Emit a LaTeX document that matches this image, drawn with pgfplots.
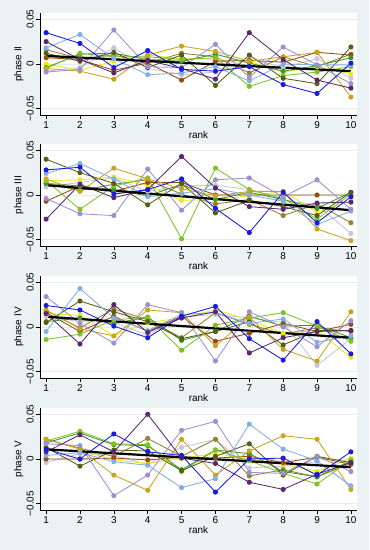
\documentclass[border=0pt]{standalone}
\usepackage{fontspec}
\setmainfont{Liberation Sans}
\usepackage{pgfplots}
\usepackage{pgfplotstable}
\pgfplotsset{compat=1.18}
\definecolor{bgc}{RGB}{234,242,243}
\definecolor{gridc}{RGB}{228,236,238}
\definecolor{s1}{RGB}{25,25,230}
\definecolor{s2}{RGB}{90,40,110}
\definecolor{s3}{RGB}{155,145,210}
\definecolor{s4}{RGB}{130,175,230}
\definecolor{s5}{RGB}{200,165,30}
\definecolor{s6}{RGB}{85,95,25}
\definecolor{s7}{RGB}{125,195,35}
\definecolor{s8}{RGB}{150,75,20}
\definecolor{s9}{RGB}{235,235,20}
\definecolor{s10}{RGB}{150,130,50}
\definecolor{s11}{RGB}{200,195,225}
\definecolor{s12}{RGB}{60,150,40}

\pgfplotstableread{
r c1 c2 c3 c4 c5 c6 c7 c8 c9 c10 c11 c12
1  0.035 0.025 -0.009 0.018 -0.005 0.012 -0.005 0.007 0.000 0.016 -0.008 -0.004
2  0.023 0.005 -0.006 0.033 -0.008 0.003 0.012 0.005 -0.007 0.006 -0.004 0.011
3  -0.004 -0.010 0.038 0.006 -0.017 0.013 0.008 -0.007 0.003 0.010 0.018 0.012
4  0.015 0.004 -0.003 -0.012 0.010 -0.004 0.008 0.001 0.010 0.001 -0.005 0.005
5  -0.006 -0.005 -0.004 -0.010 0.020 0.010 0.005 -0.018 0.006 0.012 -0.012 0.003
6  -0.008 -0.017 0.022 -0.003 0.014 -0.024 0.007 0.003 0.005 0.008 -0.009 0.011
7  -0.003 0.035 -0.015 -0.019 0.003 0.010 -0.025 0.004 0.003 -0.010 0.006 0.001
8  -0.023 0.005 0.019 0.000 0.008 -0.016 -0.013 0.002 -0.009 0.008 -0.004 -0.008
9  -0.033 -0.018 -0.001 -0.001 0.013 -0.022 -0.009 0.013 -0.003 -0.003 0.006 -0.002
10 0.001 -0.027 -0.022 -0.001 -0.037 0.019 -0.003 0.010 -0.011 0.011 -0.016 0.007
}\tabA

\pgfplotstableread{
r c1 c2 c3 c4 c5 c6 c7 c8 c9 c10 c11 c12
1  0.028 -0.027 -0.004 0.024 0.018 0.040 0.016 -0.007 0.016 0.013 0.009 0.013
2  0.031 0.012 -0.021 0.035 0.004 0.025 -0.016 0.010 0.017 0.005 0.014 0.010
3  0.001 -0.003 -0.023 0.018 0.030 0.013 0.010 0.004 0.020 0.012 0.019 0.006
4  0.006 0.006 0.029 -0.002 0.018 -0.011 0.019 0.014 0.011 0.017 0.004 -0.001
5  0.018 0.043 -0.017 0.002 0.007 0.013 -0.049 0.014 -0.006 0.001 0.010 0.012
6  -0.015 0.008 0.017 0.007 -0.001 -0.020 0.030 0.000 -0.005 -0.010 0.011 -0.005
7  -0.042 -0.013 0.019 0.000 0.004 -0.006 0.006 0.000 -0.001 -0.005 0.006 0.003
8  0.003 -0.016 -0.002 -0.007 0.004 -0.013 -0.004 0.000 0.004 -0.023 -0.006 -0.005
9  -0.031 -0.009 0.017 -0.033 -0.038 -0.023 -0.027 0.000 -0.019 -0.010 -0.011 -0.015
10 -0.002 -0.008 -0.016 -0.018 -0.051 0.003 0.001 0.000 -0.007 -0.031 -0.043 0.003
}\tabB

\pgfplotstableread{
r c1 c2 c3 c4 c5 c6 c7 c8 c9 c10 c11 c12
1  0.024 0.015 0.034 -0.005 0.019 0.005 -0.014 0.016 0.015 0.018 0.012 0.006
2  0.019 -0.019 0.004 0.043 -0.002 0.029 -0.008 -0.005 0.013 -0.001 0.006 0.010
3  0.001 0.025 -0.018 0.010 -0.010 0.017 0.008 0.012 -0.010 0.020 0.005 0.004
4  -0.012 -0.006 0.025 -0.004 0.019 0.006 0.011 -0.005 0.005 0.008 -0.009 0.011
5  0.012 0.010 0.016 0.014 0.016 -0.013 -0.026 0.012 0.010 -0.012 0.011 -0.015
6  0.023 0.017 -0.038 0.016 -0.021 -0.005 0.002 -0.016 0.019 0.016 0.014 -0.005
7  -0.013 -0.029 0.017 0.004 0.011 0.006 0.010 -0.007 0.008 0.003 0.010 0.012
8  -0.037 -0.012 0.000 0.009 -0.025 -0.020 0.016 0.004 -0.007 -0.008 0.005 0.001
9  0.006 -0.005 -0.022 -0.017 -0.038 -0.004 0.001 -0.005 -0.004 -0.001 -0.043 0.002
10 -0.030 -0.004 0.007 -0.010 0.017 -0.004 -0.016 0.003 -0.034 -0.005 -0.013 -0.012
}\tabC

\pgfplotstableread{
r c1 c2 c3 c4 c5 c6 c7 c8 c9 c10 c11 c12
1  0.011 0.008 0.017 0.004 0.022 0.013 0.020 0.000 0.010 0.022 -0.004 0.018
2  0.000 0.027 0.015 0.007 0.011 -0.008 0.031 0.000 0.010 0.012 0.006 0.029
3  0.028 0.008 -0.041 -0.003 -0.018 0.010 0.017 0.001 -0.001 0.003 0.004 0.016
4  0.008 0.050 -0.018 -0.007 -0.035 0.009 0.016 -0.001 -0.005 0.023 -0.006 0.015
5  0.004 0.001 0.032 -0.032 0.022 -0.013 -0.014 0.002 0.001 0.003 0.013 -0.012
6  -0.037 -0.005 0.042 -0.022 -0.018 0.003 0.010 0.001 0.006 0.022 0.022 0.010
7  0.000 -0.026 -0.015 0.039 0.009 0.017 -0.002 0.003 0.000 -0.019 -0.010 0.006
8  0.001 -0.034 -0.016 0.011 0.026 -0.018 -0.016 -0.004 -0.006 -0.012 -0.008 -0.014
9  -0.018 -0.017 0.003 -0.002 0.022 0.003 -0.028 0.002 -0.014 -0.020 -0.003 -0.020
10 0.008 -0.004 -0.014 -0.030 -0.034 -0.004 -0.001 -0.006 0.001 -0.005 -0.030 -0.002
}\tabD

\pgfplotsset{panel/.style={
  width=317bp, height=102bp, scale only axis,
  xmin=0.82, xmax=10.18, ymin=-0.057, ymax=0.057,
  axis x line*=bottom, axis y line*=left,
  axis line style={-, black, line width=0.5bp},
  axis background/.style={fill=white},
  xtick={1,...,10}, ytick={-0.05,0,0.05},
  yticklabels={−0.05,0,0.05},
  scaled y ticks=false,
  yticklabel style={rotate=90, anchor=south, inner sep=2pt},
  xticklabel style={inner sep=2pt},
  tick align=outside, major tick length=4bp,
  tick style={black, line width=0.5bp},
  ymajorgrids, grid style={color=gridc, line width=0.6bp},
  xlabel={rank},
  xlabel style={inner sep=1pt},
  ylabel style={inner sep=1pt},
  font=\fontsize{10}{12}\selectfont,
  /pgf/number format/assume math mode=true,
  every axis plot/.append style={line width=0.85bp, mark=*, mark size=2.1bp, mark options={solid}},
  anchor=south west,
}}

\newcommand\drawseries[1]{%
  \pgfplotsinvokeforeach{11,10,9,8,12,7,6,5,4,3,2,1}{%
    \addplot[color=s##1] table[x=r, y=c##1]{#1};
  }%
}

\begin{document}
\begin{tikzpicture}[x=1bp,y=1bp]
\fill[bgc] (0,0) rectangle (369,550);

\begin{axis}[panel, at={(40bp,435bp)}, ylabel={phase II}]
\drawseries{\tabA}
\addplot[black, line width=2.2bp, no markers] coordinates {(1,0.009) (10,-0.008)};
\end{axis}

\begin{axis}[panel, at={(40bp,304bp)}, ylabel={phase III}]
\drawseries{\tabB}
\addplot[black, line width=2.2bp, no markers] coordinates {(1,0.011) (10,-0.017)};
\end{axis}

\begin{axis}[panel, at={(40bp,172bp)}, ylabel={phase IV}]
\drawseries{\tabC}
\addplot[black, line width=2.2bp, no markers] coordinates {(1,0.0115) (10,-0.012)};
\end{axis}

\begin{axis}[panel, at={(40bp,40bp)}, ylabel={phase V}]
\drawseries{\tabD}
\addplot[black, line width=2.2bp, no markers] coordinates {(1,0.0108) (10,-0.0092)};
\end{axis}
\end{tikzpicture}
\end{document}
